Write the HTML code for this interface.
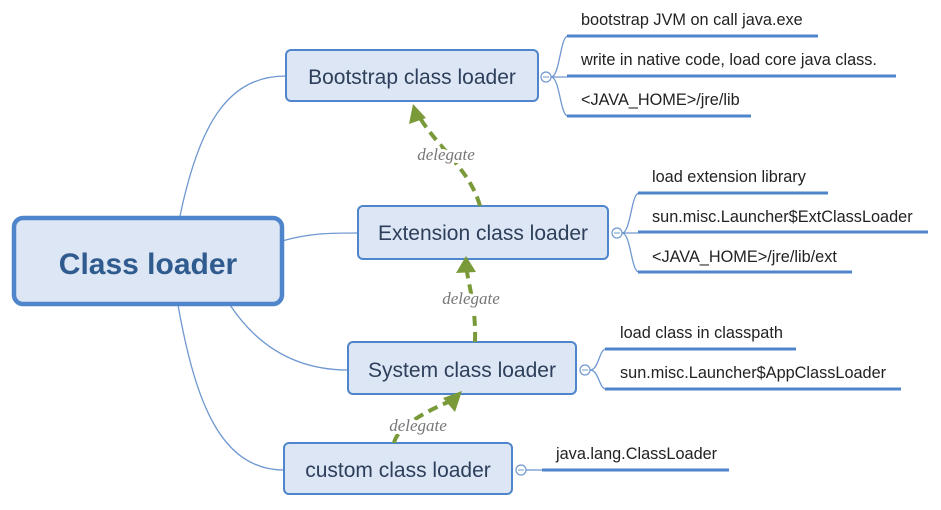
<!DOCTYPE html>
<html><head><meta charset="utf-8"><style>
body{margin:0;background:#fff;width:941px;height:510px;overflow:hidden}
svg{display:block}
.n{font-family:"Liberation Sans",sans-serif;fill:#2d3f5a}
.l{font-family:"Liberation Sans",sans-serif;font-size:16.3px;fill:#222}
.d{font-family:"Liberation Serif",serif;font-style:italic;font-size:17px;fill:#777;stroke:#fff;stroke-width:6px;paint-order:stroke;stroke-linejoin:round}
</style></head><body>
<svg width="941" height="510" viewBox="0 0 941 510" xmlns="http://www.w3.org/2000/svg">
<g fill="none" stroke="#6f98d0" stroke-width="1.3">
<path d="M180 216 C200 120 230 76 286 76"/>
<path d="M282 241 C310 233 330 233 358 233"/>
<path d="M230 305 C260 350 300 370 348 370"/>
<path d="M178 305 C195 400 220 470 284 470"/>
<path d="M551 77 C560 77 560 36 568 36"/><path d="M551 77 H568"/><path d="M551 77 C560 77 560 116 568 116"/>
<path d="M622 233 C631 233 631 193 639 193"/><path d="M622 233 H639"/><path d="M622 233 C631 233 631 272 639 272"/>
<path d="M590 370 C599 370 599 349 606 349"/><path d="M590 370 C599 370 599 389 606 389"/>
<path d="M526 470 H542"/>
</g>
<g stroke="#4f86cb" stroke-width="3">
<path d="M567 36 H818"/><path d="M567 76 H896"/><path d="M567 116 H751"/>
<path d="M638 193 H828"/><path d="M638 232 H928"/><path d="M638 272 H852"/>
<path d="M605 349 H796"/><path d="M605 389 H901"/>
<path d="M542 470 H729"/>
</g>
<g fill="#fff" stroke="#6f98d0" stroke-width="1.2">
<circle cx="546" cy="77" r="5"/><circle cx="617" cy="233" r="5"/><circle cx="585" cy="370" r="5"/><circle cx="521" cy="470" r="5"/>
</g>
<g stroke="#6f98d0" stroke-width="1"><path d="M543 77h6M614 233h6M582 370h6M518 470h6"/></g>
<rect x="14" y="218" width="268" height="86" rx="9" fill="#dce6f4" stroke="#4f86cb" stroke-width="4.5"/>
<text x="148" y="274" text-anchor="middle" class="n" font-size="30" font-weight="bold" style="fill:#2f5b8f">Class loader</text>
<g fill="#dce6f4" stroke="#4f86cb" stroke-width="2">
<rect x="286" y="50" width="252" height="51" rx="5"/>
<rect x="358" y="206" width="250" height="53" rx="5"/>
<rect x="348" y="342" width="228" height="52" rx="5"/>
<rect x="284" y="443" width="228" height="51" rx="5"/>
</g>
<text x="412" y="84" text-anchor="middle" class="n" font-size="21">Bootstrap class loader</text>
<text x="483" y="240" text-anchor="middle" class="n" font-size="21">Extension class loader</text>
<text x="462" y="377" text-anchor="middle" class="n" font-size="21">System class loader</text>
<text x="398" y="477" text-anchor="middle" class="n" font-size="21">custom class loader</text>
<text x="581" y="25" class="l">bootstrap JVM on call java.exe</text>
<text x="581" y="65" class="l">write in native code, load core java class.</text>
<text x="581" y="105" class="l">&lt;JAVA_HOME&gt;/jre/lib</text>
<text x="652" y="182" class="l">load extension library</text>
<text x="652" y="222" class="l">sun.misc.Launcher$ExtClassLoader</text>
<text x="652" y="262" class="l">&lt;JAVA_HOME&gt;/jre/lib/ext</text>
<text x="620" y="338" class="l">load class in classpath</text>
<text x="620" y="378" class="l">sun.misc.Launcher$AppClassLoader</text>
<text x="556" y="459" class="l">java.lang.ClassLoader</text>
<g fill="none" stroke="#7a9a3a" stroke-width="4" stroke-dasharray="10 6">
<path d="M480 206 C470 170 440 150 420 118"/>
<path d="M475 342 C476 310 470 290 467 272"/>
<path d="M394 443 C398 425 430 410 448 402"/>
</g>
<g fill="#7a9a3a">
<polygon points="413,104 409,124 426,118"/>
<polygon points="466,256 456,273 476,272"/>
<polygon points="462,391 443,398 455,412"/>
</g>
<text x="446" y="160" text-anchor="middle" class="d">delegate</text>
<text x="471" y="304" text-anchor="middle" class="d">delegate</text>
<text x="418" y="431" text-anchor="middle" class="d">delegate</text>
</svg>
</body></html>
